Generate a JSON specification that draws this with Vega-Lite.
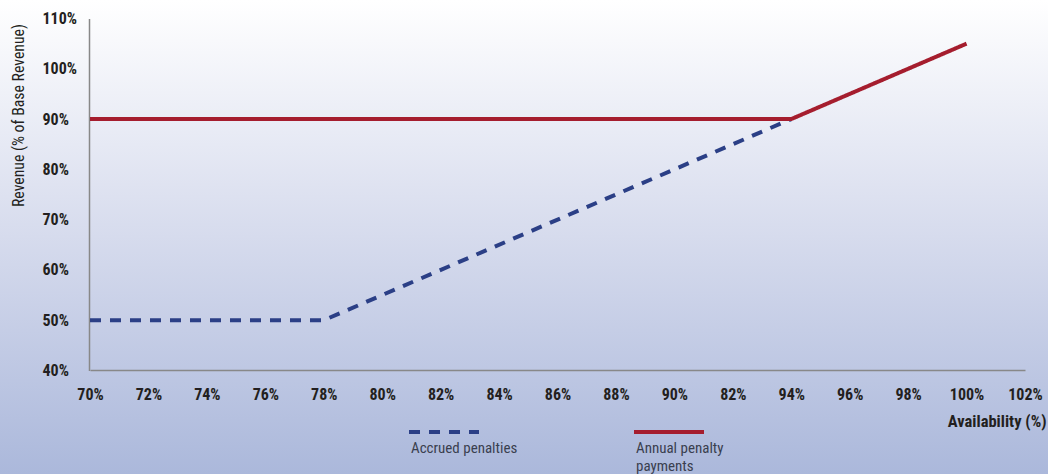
{
  "$schema": "https://vega.github.io/schema/vega-lite/v6.json",
  "width": 1048,
  "height": 474,
  "autosize": "none",
  "padding": 0,
  "background": "#ffffff",
  "config": {
    "view": {
      "stroke": null,
      "fill": {
        "gradient": "linear", "x1": 0, "y1": 0, "x2": 0, "y2": 1,
        "stops": [{"offset": 0, "color": "#ffffff"}, {"offset": 0.5, "color": "#d6dbed"}, {"offset": 1, "color": "#abb8db"}]
      }
    },
    "font": "Roboto Condensed, DejaVu Sans Condensed, Liberation Sans Narrow, Roboto"
  },
  "data": {
    "values": [
      {"series": "Accrued penalties", "availability": 70, "revenue": 50},
      {"series": "Accrued penalties", "availability": 78, "revenue": 50},
      {"series": "Accrued penalties", "availability": 94, "revenue": 90},
      {"series": "Annual penalty payments", "availability": 70, "revenue": 90},
      {"series": "Annual penalty payments", "availability": 94, "revenue": 90},
      {"series": "Annual penalty payments", "availability": 100, "revenue": 105}
    ]
  },
  "mark": {"type": "line", "strokeWidth": 4, "strokeCap": "butt"},
  "encoding": {
    "x": {
      "field": "availability", "type": "quantitative",
      "scale": {"domain": [70, 102], "range": [90, 1025], "nice": false, "zero": false},
      "axis": {
        "offset": -104,
        "values": [70, 72, 74, 76, 78, 80, 82, 84, 86, 88, 90, 92, 94, 96, 98, 100, 102],
        "labelExpr": "datum.value == 92 ? '82%' : datum.value + '%'",
        "grid": false, "ticks": false,
        "domainColor": "#888888", "domainWidth": 1.5,
        "labelFontWeight": "bold", "labelFontSize": 16, "labelColor": "#231f20", "labelPadding": 16,
        "labelOverlap": false, "labelFlush": false,
        "title": "Availability (%)", "titleFontWeight": "bold", "titleFontSize": 16.5, "titleColor": "#231f20",
        "titleAlign": "right", "titleAnchor": "end", "titleX": 1046, "titleY": 51, "titleBaseline": "middle"
      }
    },
    "y": {
      "field": "revenue", "type": "quantitative",
      "scale": {"domain": [40, 110], "range": [370.5, 18.5], "nice": false, "zero": false},
      "axis": {
        "offset": -89,
        "values": [40, 50, 60, 70, 80, 90, 100, 110],
        "labelExpr": "datum.value + '%'",
        "grid": false, "ticks": false,
        "domainColor": "#888888", "domainWidth": 1.5,
        "labelFontWeight": "bold", "labelFontSize": 16, "labelColor": "#231f20", "labelPadding": 47, "labelAlign": "left",
        "title": "Revenue (% of Base Revenue)", "titleFontWeight": "normal", "titleFontSize": 15.8, "titleColor": "#231f20",
        "titleX": -71, "titleY": 115, "titleAngle": -90, "titleAlign": "center", "titleBaseline": "middle"
      }
    },
    "color": {
      "field": "series", "type": "nominal",
      "scale": {"domain": ["Accrued penalties", "Annual penalty payments"], "range": ["#2b3f86", "#a51d2e"]},
      "legend": {
        "orient": "none", "legendX": 407, "legendY": 395, "direction": "horizontal", "title": null,
        "padding": 0, "columnPadding": 108,
        "symbolType": "stroke", "symbolSize": 4900, "symbolStrokeWidth": 4,
        "labelOffset": -70, "labelBaseline": "top", "labelFontSize": 15, "labelColor": "#3a3f4f",
        "labelLimit": 200,
        "labelExpr": "datum.label == 'Annual penalty payments' ? ['Annual penalty', 'payments'] : ['Accrued penalties', ' ']",
        "encode": {"labels": {"update": {"dy": {"value": 9}, "lineHeight": {"value": 18}}}}
      }
    },
    "strokeDash": {
      "field": "series", "type": "nominal",
      "scale": {"domain": ["Accrued penalties", "Annual penalty payments"], "range": [[11, 9], [1, 0]]},
      "legend": null
    }
  }
}
